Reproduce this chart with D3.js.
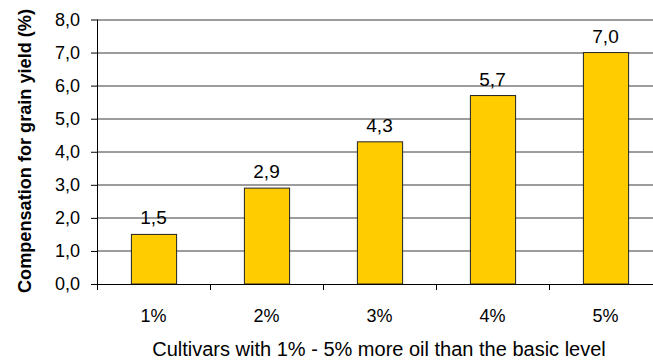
<!DOCTYPE html>
<html>
<head>
<meta charset="utf-8">
<script src="https://cdn.jsdelivr.net/npm/d3@7"></script>
<style>
  body { margin: 0; background: #fff; overflow: hidden; }
  svg { display: block; }
  text { font-family: "Liberation Sans", Arial, sans-serif; }
</style>
</head>
<body>
<svg id="chart" width="653" height="363"></svg>
<script>
const categories = ['1%', '2%', '3%', '4%', '5%'];
const values = [1.5, 2.9, 4.3, 5.7, 7.0];
const yTicks = [0, 1, 2, 3, 4, 5, 6, 7, 8];

const svg = d3.select('#chart');
const margin = { top: 19.5, left: 97 };
const innerWidth = 565;
const innerHeight = 264.5;
const fmt = d3.formatLocale({ decimal: ',', thousands: '.', grouping: [3], currency: ['', ''] }).format('.1f');

const x = d3.scaleBand().domain(categories).range([0, innerWidth]).paddingInner(0.6).paddingOuter(0.3);
const y = d3.scaleLinear().domain([0, 8]).range([innerHeight, 0]);

const g = svg.append('g').attr('transform', `translate(${margin.left}, ${margin.top})`);

// gridlines
g.append('g').selectAll('line').data(yTicks.slice(1)).join('line')
    .attr('x1', 0).attr('x2', innerWidth)
    .attr('y1', d => Math.round(y(d)) + 0.5).attr('y2', d => Math.round(y(d)) + 0.5)
    .attr('stroke', '#3a3a3a').attr('stroke-width', 1);

// bars
g.selectAll('rect.bar').data(values).join('rect')
    .attr('class', 'bar')
    .attr('x', (d, i) => x(categories[i]) + 0.5)
    .attr('y', d => y(d))
    .attr('width', x.bandwidth())
    .attr('height', d => innerHeight - y(d))
    .attr('fill', '#FFCC00')
    .attr('stroke', '#222')
    .attr('stroke-width', 1);

// bar labels
g.selectAll('text.lbl').data(values).join('text')
    .attr('class', 'lbl')
    .attr('x', (d, i) => x(categories[i]) + x.bandwidth() / 2)
    .attr('y', d => y(d) - 10)
    .attr('text-anchor', 'middle')
    .attr('font-size', '19px')
    .attr('fill', '#000')
    .text(d => fmt(d));

// y axis
const yAxis = g.append('g')
    .call(d3.axisLeft(y).tickValues(yTicks).tickSize(6).tickPadding(11).tickFormat(fmt));
yAxis.attr('font-size', null).attr('font-family', null);
yAxis.select('.domain').attr('d', `M0.5,0V${innerHeight + 6}`).attr('stroke', '#000');
yAxis.selectAll('.tick line').attr('stroke', '#000');
yAxis.selectAll('.tick text').attr('font-size', '18px').attr('fill', '#000');

// x axis
const xAxis = g.append('g').attr('transform', `translate(0, ${innerHeight})`)
    .call(d3.axisBottom(x).tickSize(0).tickPadding(25));
xAxis.attr('font-size', null).attr('font-family', null);
xAxis.select('.domain').attr('d', `M0,0.5H${innerWidth}`).attr('stroke', '#000');
xAxis.selectAll('.tick text').attr('font-size', '18px').attr('fill', '#000');
xAxis.selectAll('line.sep').data(categories.slice(1)).join('line')
    .attr('class', 'sep')
    .attr('x1', d => Math.round(x(d) - x.step() * x.paddingInner() / 2) + 0.5)
    .attr('x2', d => Math.round(x(d) - x.step() * x.paddingInner() / 2) + 0.5)
    .attr('y1', 0).attr('y2', 6)
    .attr('stroke', '#000');

// axis titles
svg.append('text')
    .attr('x', 379).attr('y', 356)
    .attr('text-anchor', 'middle')
    .attr('font-size', '20px')
    .text('Cultivars with 1% - 5% more oil than the basic level');

svg.append('text')
    .attr('transform', 'translate(31, 151) rotate(-90)')
    .attr('text-anchor', 'middle')
    .attr('font-size', '19px')
    .attr('font-weight', 'bold')
    .attr('textLength', 284)
    .attr('lengthAdjust', 'spacingAndGlyphs')
    .text('Compensation for grain yield (%)');
</script>
</body>
</html>
